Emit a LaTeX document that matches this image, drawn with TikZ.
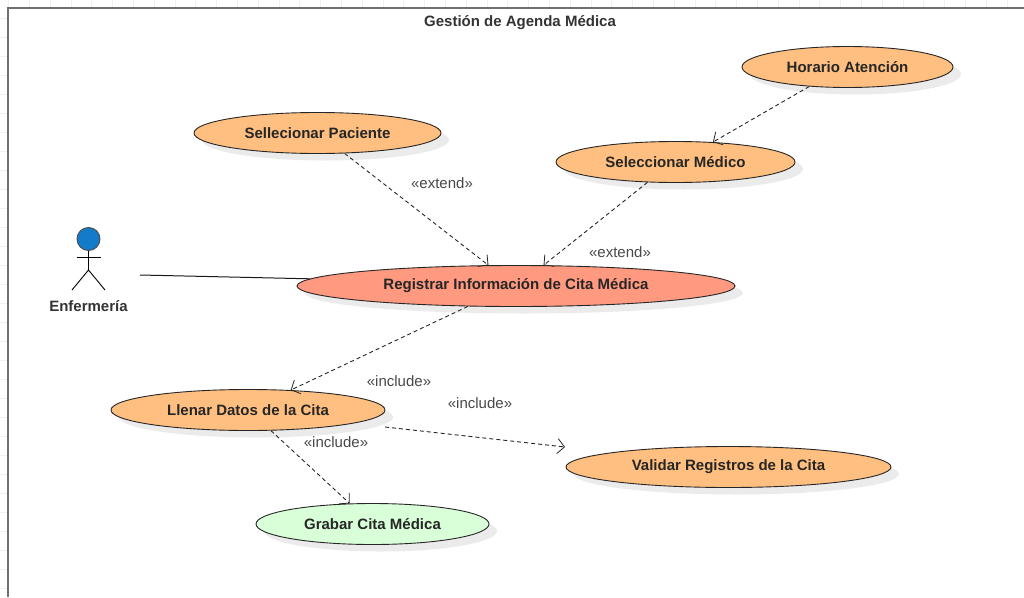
\documentclass[tikz,border=0pt]{standalone}
\usepackage{fontspec}
\setmainfont{Liberation Sans}
\usetikzlibrary{arrows.meta, shapes.geometric, shadows}
\definecolor{casefill}{HTML}{FFBF80}
\definecolor{mainfill}{HTML}{FF9980}
\definecolor{savefill}{HTML}{D9FFD9}
\definecolor{framegray}{HTML}{707070}
\definecolor{labelgray}{HTML}{484848}
\definecolor{gridgray}{HTML}{F0F0F0}
\tikzset{
	usecase/.style={ellipse, draw=black!85, line width=0.9pt, fill=casefill, inner sep=0pt, minimum height=41pt,
		font=\fontsize{15}{18}\selectfont\bfseries, text=black!85,
		drop shadow={shadow xshift=8pt, shadow yshift=-7pt, fill=black!8, opacity=1}},
	dep/.style={draw=black!85, line width=0.9pt, dash pattern=on 4pt off 3pt, -{Straight Barb[length=7pt, width=15pt, line width=0.8pt]}},
	stereo/.style={font=\fontsize{15}{18}\selectfont, text=labelgray},
}
\begin{document}
\begin{tikzpicture}[x=1pt, y=-1pt]
	\useasboundingbox (0,0) rectangle (1024,597);
	% sheet behind the frame
	\foreach \gx in {8.5,29.3,...,1024} \draw[gridgray, line width=0.7pt] (\gx,0) -- (\gx,8);
	\foreach \gy in {18,37,...,597} \draw[gridgray, line width=0.7pt] (0,\gy) -- (7,\gy);
	\draw[framegray, line width=2pt] (1024,8) -- (7.5,8) -- (7.5,597);
	\node[font=\fontsize{15}{18}\selectfont\bfseries, text=black!80] (title) at (520,23) {Gestión de Agenda Médica};

	% use cases
	\node[usecase, minimum width=211pt] (horario) at (847.5,67) {Horario Atención};
	\node[usecase, minimum width=239pt] (medico) at (675.5,162) {Seleccionar Médico};
	\node[usecase, minimum width=247pt] (paciente) at (317.5,133) {Sellecionar Paciente};
	\node[usecase, minimum width=438pt, fill=mainfill] (registrar) at (516,286) {Registrar Información de Cita Médica};
	\node[usecase, minimum width=274pt] (llenar) at (248,410) {Llenar Datos de la Cita};
	\node[usecase, minimum width=325pt] (validar) at (728.5,467) {Validar Registros de la Cita};
	\node[usecase, minimum width=233pt, fill=savefill] (grabar) at (372.5,524) {Grabar Cita Médica};

	% actor
	\node[circle, draw=black!70, line width=0.9pt, fill=cyan!60!blue, minimum size=23pt, inner sep=0pt] (head) at (88.5,239) {};
	\coordinate (hip) at (88.5,270);
	\coordinate (armleft) at (76.5,257);
	\coordinate (armright) at (100.5,257);
	\coordinate (footleft) at (72,290);
	\coordinate (footright) at (105,290);
	\draw[line width=0.9pt] (head.south) -- (hip);
	\draw[line width=0.9pt] (armleft) -- (armright);
	\draw[line width=0.9pt] (footleft) -- (hip) -- (footright);
	\node[font=\fontsize{15}{18}\selectfont\bfseries, text=black!80] (enfermeria) at (88.5,306) {Enfermería};

	% connectors
	\coordinate (actorout) at (140,275);
	\draw[black!90, line width=1pt] (actorout) -- (registrar.178);
	\draw[dep] (horario.207) -- (medico.28.6);
	\draw[dep] (paciente.-37.4) -- (registrar.143.1);
	\draw[dep] (medico.216) -- (registrar.37.9);
	\draw[dep] (registrar.203.5) -- (llenar.25);
	\draw[dep] (llenar.-42.3) -- (grabar.138.2);
	\coordinate (llenarout) at (385,427);
	\coordinate (validarin) at (565,447);
	\draw[dep] (llenarout) -- (validarin);

	% stereotypes
	\node[stereo] (extenda) at (442,183) {«extend»};
	\node[stereo] (extendb) at (620,252) {«extend»};
	\node[stereo] (includea) at (399,381) {«include»};
	\node[stereo] (includeb) at (480,403) {«include»};
	\node[stereo] (includec) at (336,442) {«include»};
\end{tikzpicture}
\end{document}
